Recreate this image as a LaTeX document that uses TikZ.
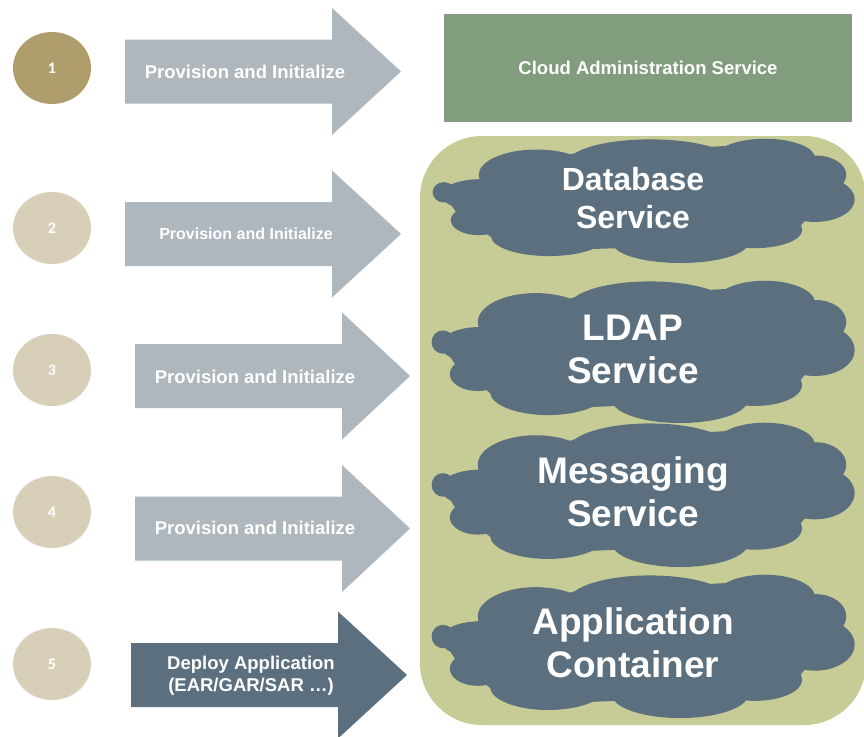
\documentclass[tikz,border=0pt]{standalone}
\usepackage{fontspec}
\setmainfont{Liberation Sans}
\newfontfamily\numfont{Carlito}
\usetikzlibrary{shapes.geometric}
\definecolor{circA}{RGB}{175,158,107}
\definecolor{circB}{RGB}{216,207,184}
\definecolor{arrGrey}{RGB}{173,183,189}
\definecolor{slate}{RGB}{91,111,126}
\definecolor{adminGreen}{RGB}{130,157,126}
\definecolor{panel}{RGB}{199,203,150}
% arrow: color, x0, x1 (head base), xtip, ycentre
\newcommand\flowarrow[5]{\fill[#1] (#2,#5-32) -- (#3,#5-32) -- (#3,#5-63.5) -- (#4,#5) -- (#3,#5+63.5) -- (#3,#5+32) -- (#2,#5+32) -- cycle;}
% cloud: x0, y0, width, height (unit square, y downward)
\newcommand\svccloud[4]{%
  \begin{scope}[shift={(#1,#2)},xscale=#3,yscale=#4]
    \fill[slate] (0.046,0.368) -- (0.108,0.324) -- (0.337,0.113) -- (0.695,0.056)
      -- (0.887,0.120) -- (0.966,0.350) -- (0.868,0.702) -- (0.671,0.854)
      -- (0.377,0.887) -- (0.149,0.819) -- (0.054,0.585) -- (0.021,0.430) -- cycle;
    \fill[slate] (0.245,0.289) ellipse [x radius=0.137, y radius=0.204];
    \fill[slate] (0.514,0.186) ellipse [x radius=0.193, y radius=0.183];
    \fill[slate] (0.785,0.153) ellipse [x radius=0.118, y radius=0.155];
    \fill[slate] (0.906,0.289) ellipse [x radius=0.071, y radius=0.155];
    \fill[slate] (0.903,0.486) ellipse [x radius=0.094, y radius=0.183];
    \fill[slate] (0.762,0.732) ellipse [x radius=0.111, y radius=0.148];
    \fill[slate] (0.585,0.838) ellipse [x radius=0.160, y radius=0.162];
    \fill[slate] (0.274,0.782) ellipse [x radius=0.137, y radius=0.162];
    \fill[slate] (0.108,0.655) ellipse [x radius=0.066, y radius=0.120];
    \fill[slate] (0.113,0.451) ellipse [x radius=0.094, y radius=0.127];
    \fill[slate] (0.026,0.430) ellipse [x radius=0.027, y radius=0.082];
  \end{scope}}
\begin{document}
\begin{tikzpicture}[x=1pt,y=-1pt,
  numdisc/.style={ellipse, minimum width=78pt, minimum height=72pt, inner sep=0pt,
    text=white, font=\numfont\bfseries\fontsize{16}{18}\selectfont},
  arrowtext/.style={text=white, inner sep=0pt, align=center,
    font=\bfseries\fontsize{18.5}{22}\selectfont},
  cloudtext/.style={text=white, inner sep=0pt, align=center,
    font=\bfseries\fontsize{37}{43}\selectfont}]
\useasboundingbox (0,0) rectangle (864,736);
\fill[white] (0,0) rectangle (864,736);

% numbered discs
\node[numdisc, fill=circA] (n1) at (52,68) {1};
\node[numdisc, fill=circB] (n2) at (52,228) {2};
\node[numdisc, fill=circB] (n3) at (52,370) {3};
\node[numdisc, fill=circB] (n4) at (52,512) {4};
\node[numdisc, fill=circB] (n5) at (52,664) {5};

% arrows
\flowarrow{arrGrey}{125}{332}{401}{71.5}
\flowarrow{arrGrey}{125}{332}{401}{234}
\flowarrow{arrGrey}{135}{342}{410}{376}
\flowarrow{arrGrey}{135}{342}{410}{528.5}
\flowarrow{slate}{131}{338}{407}{675}

\node[arrowtext] (a1) at (245,72) {Provision and Initialize};
\node[arrowtext, font=\bfseries\fontsize{16}{19}\selectfont] (a2) at (246,234) {Provision and Initialize};
\node[arrowtext] (a3) at (255,377) {Provision and Initialize};
\node[arrowtext] (a4) at (255,528) {Provision and Initialize};
\node[arrowtext] (a5) at (251,676) {Deploy Application\\(EAR/GAR/SAR …)};

% cloud administration service
\node[rectangle, fill=adminGreen, minimum width=408pt, minimum height=108pt, inner sep=0pt,
  text=white, font=\bfseries\fontsize{18.5}{22}\selectfont] (admin) at (648,68) {Cloud Administration Service};

% container panel
\fill[panel, rounded corners=62pt] (420,136) rectangle (866,725);

% clouds
\svccloud{433}{139}{423}{124}
\svccloud{432}{281}{424}{142}
\svccloud{432}{423}{424}{144}
\svccloud{432}{575}{424}{143}

\node[cloudtext, font=\bfseries\fontsize{32}{38}\selectfont] (db) at (633,198) {Database\\Service};
\node[cloudtext] (ldap) at (633,349) {LDAP\\Service};
\node[cloudtext] (msg) at (633,492) {Messaging\\Service};
\node[cloudtext] (app) at (633,643) {Application\\Container};
\end{tikzpicture}
\end{document}
